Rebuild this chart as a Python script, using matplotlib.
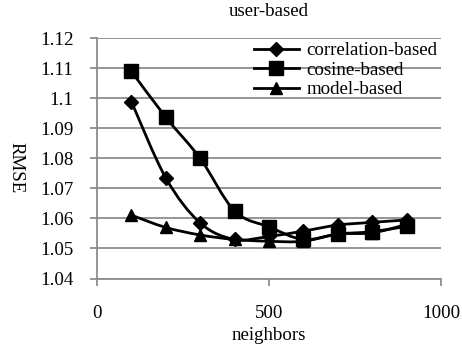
import numpy as np
import matplotlib
matplotlib.use("Agg")
import matplotlib.pyplot as plt
from matplotlib.path import Path
from matplotlib.patches import PathPatch

plt.rcParams['font.family'] = ['Liberation Serif', 'DejaVu Serif']

neighbors = [100, 200, 300, 400, 500, 600, 700, 800, 900]
correlation = [1.0989, 1.0735, 1.0585, 1.0530, 1.0540, 1.0558, 1.0578, 1.0587, 1.0595]
cosine = [1.1090, 1.0937, 1.0800, 1.0625, 1.0572, 1.0530, 1.0548, 1.0556, 1.0574]
model = [1.0611, 1.0570, 1.0545, 1.0530, 1.0524, 1.0524, 1.0548, 1.0552, 1.0580]
series_names = ["correlation-based", "cosine-based", "model-based"]
series_values = [correlation, cosine, model]
markers = ["D", "s", "^"]
marker_sizes = [7, 9.5, 9]
x_ticks = [0, 500, 1000]
y_ticks = [1.04, 1.05, 1.06, 1.07, 1.08, 1.09, 1.1, 1.11, 1.12]
y_tick_labels = ["1.04", "1.05", "1.06", "1.07", "1.08", "1.09", "1.1", "1.11", "1.12"]

W, H = 462, 350
FS = 13.6
fig = plt.figure(figsize=(W / 100, H / 100), dpi=100)
ax = fig.add_axes([97 / W, 1 - 278.5 / H, (441 - 97) / W, (278.5 - 38.3) / H])

grid_color = "#8c8c8c"


def smooth_path(xs, ys, tension=1 / 6):
    xs = np.asarray(xs, float)
    ys = np.asarray(ys, float)
    n = len(xs)
    verts = [(xs[0], ys[0])]
    codes = [Path.MOVETO]
    for i in range(n - 1):
        p0 = np.array([xs[max(i - 1, 0)], ys[max(i - 1, 0)]])
        p1 = np.array([xs[i], ys[i]])
        p2 = np.array([xs[i + 1], ys[i + 1]])
        p3 = np.array([xs[min(i + 2, n - 1)], ys[min(i + 2, n - 1)]])
        c1 = p1 + (p2 - p0) * tension
        c2 = p2 - (p3 - p1) * tension
        verts += [tuple(c1), tuple(c2), tuple(p2)]
        codes += [Path.CURVE4] * 3
    return Path(verts, codes)


for vals, name, m, ms in zip(series_values, series_names, markers, marker_sizes):
    patch = PathPatch(smooth_path(neighbors, vals), facecolor="none",
                      edgecolor="black", lw=2.0, zorder=3)
    ax.add_patch(patch)
    ax.plot(neighbors, vals, linestyle="none", marker=m, ms=ms, color="black",
            zorder=4)
    ax.plot([], [], color="black", lw=2.0, marker=m, ms=ms, label=name)

ax.set_xlim(0, 1000)
ax.set_ylim(1.04, 1.12)
ax.set_xticks(x_ticks)
ax.set_yticks(y_ticks)
ax.set_yticklabels(y_tick_labels)
ax.yaxis.grid(True, color=grid_color, lw=1.3)
ax.set_axisbelow(True)
for s in ["top", "right"]:
    ax.spines[s].set_visible(False)
for s in ["left", "bottom"]:
    ax.spines[s].set_color(grid_color)
    ax.spines[s].set_linewidth(1.3)
ax.tick_params(axis="both", colors=grid_color, width=1.3, length=5,
               labelcolor="black", labelsize=FS)
ax.tick_params(axis="x", pad=14)
ax.tick_params(axis="y", pad=12)

fig.text(269 / W, 1 - 11 / H, "user-based", ha="center", va="center", fontsize=FS)
fig.text(269 / W, 1 - 335 / H, "neighbors", ha="center", va="center", fontsize=FS)
fig.text(16 / W, 1 - 168 / H, "RMSE", ha="center", va="center", rotation=-90,
         fontsize=FS)

leg = ax.legend(loc="upper right", bbox_to_anchor=(1.0, 1.0), frameon=False,
                fontsize=FS, handlelength=2.35, handletextpad=0.4,
                labelspacing=0.12, borderaxespad=0.0, borderpad=0.2)

fig.savefig("out.png", dpi=100)
